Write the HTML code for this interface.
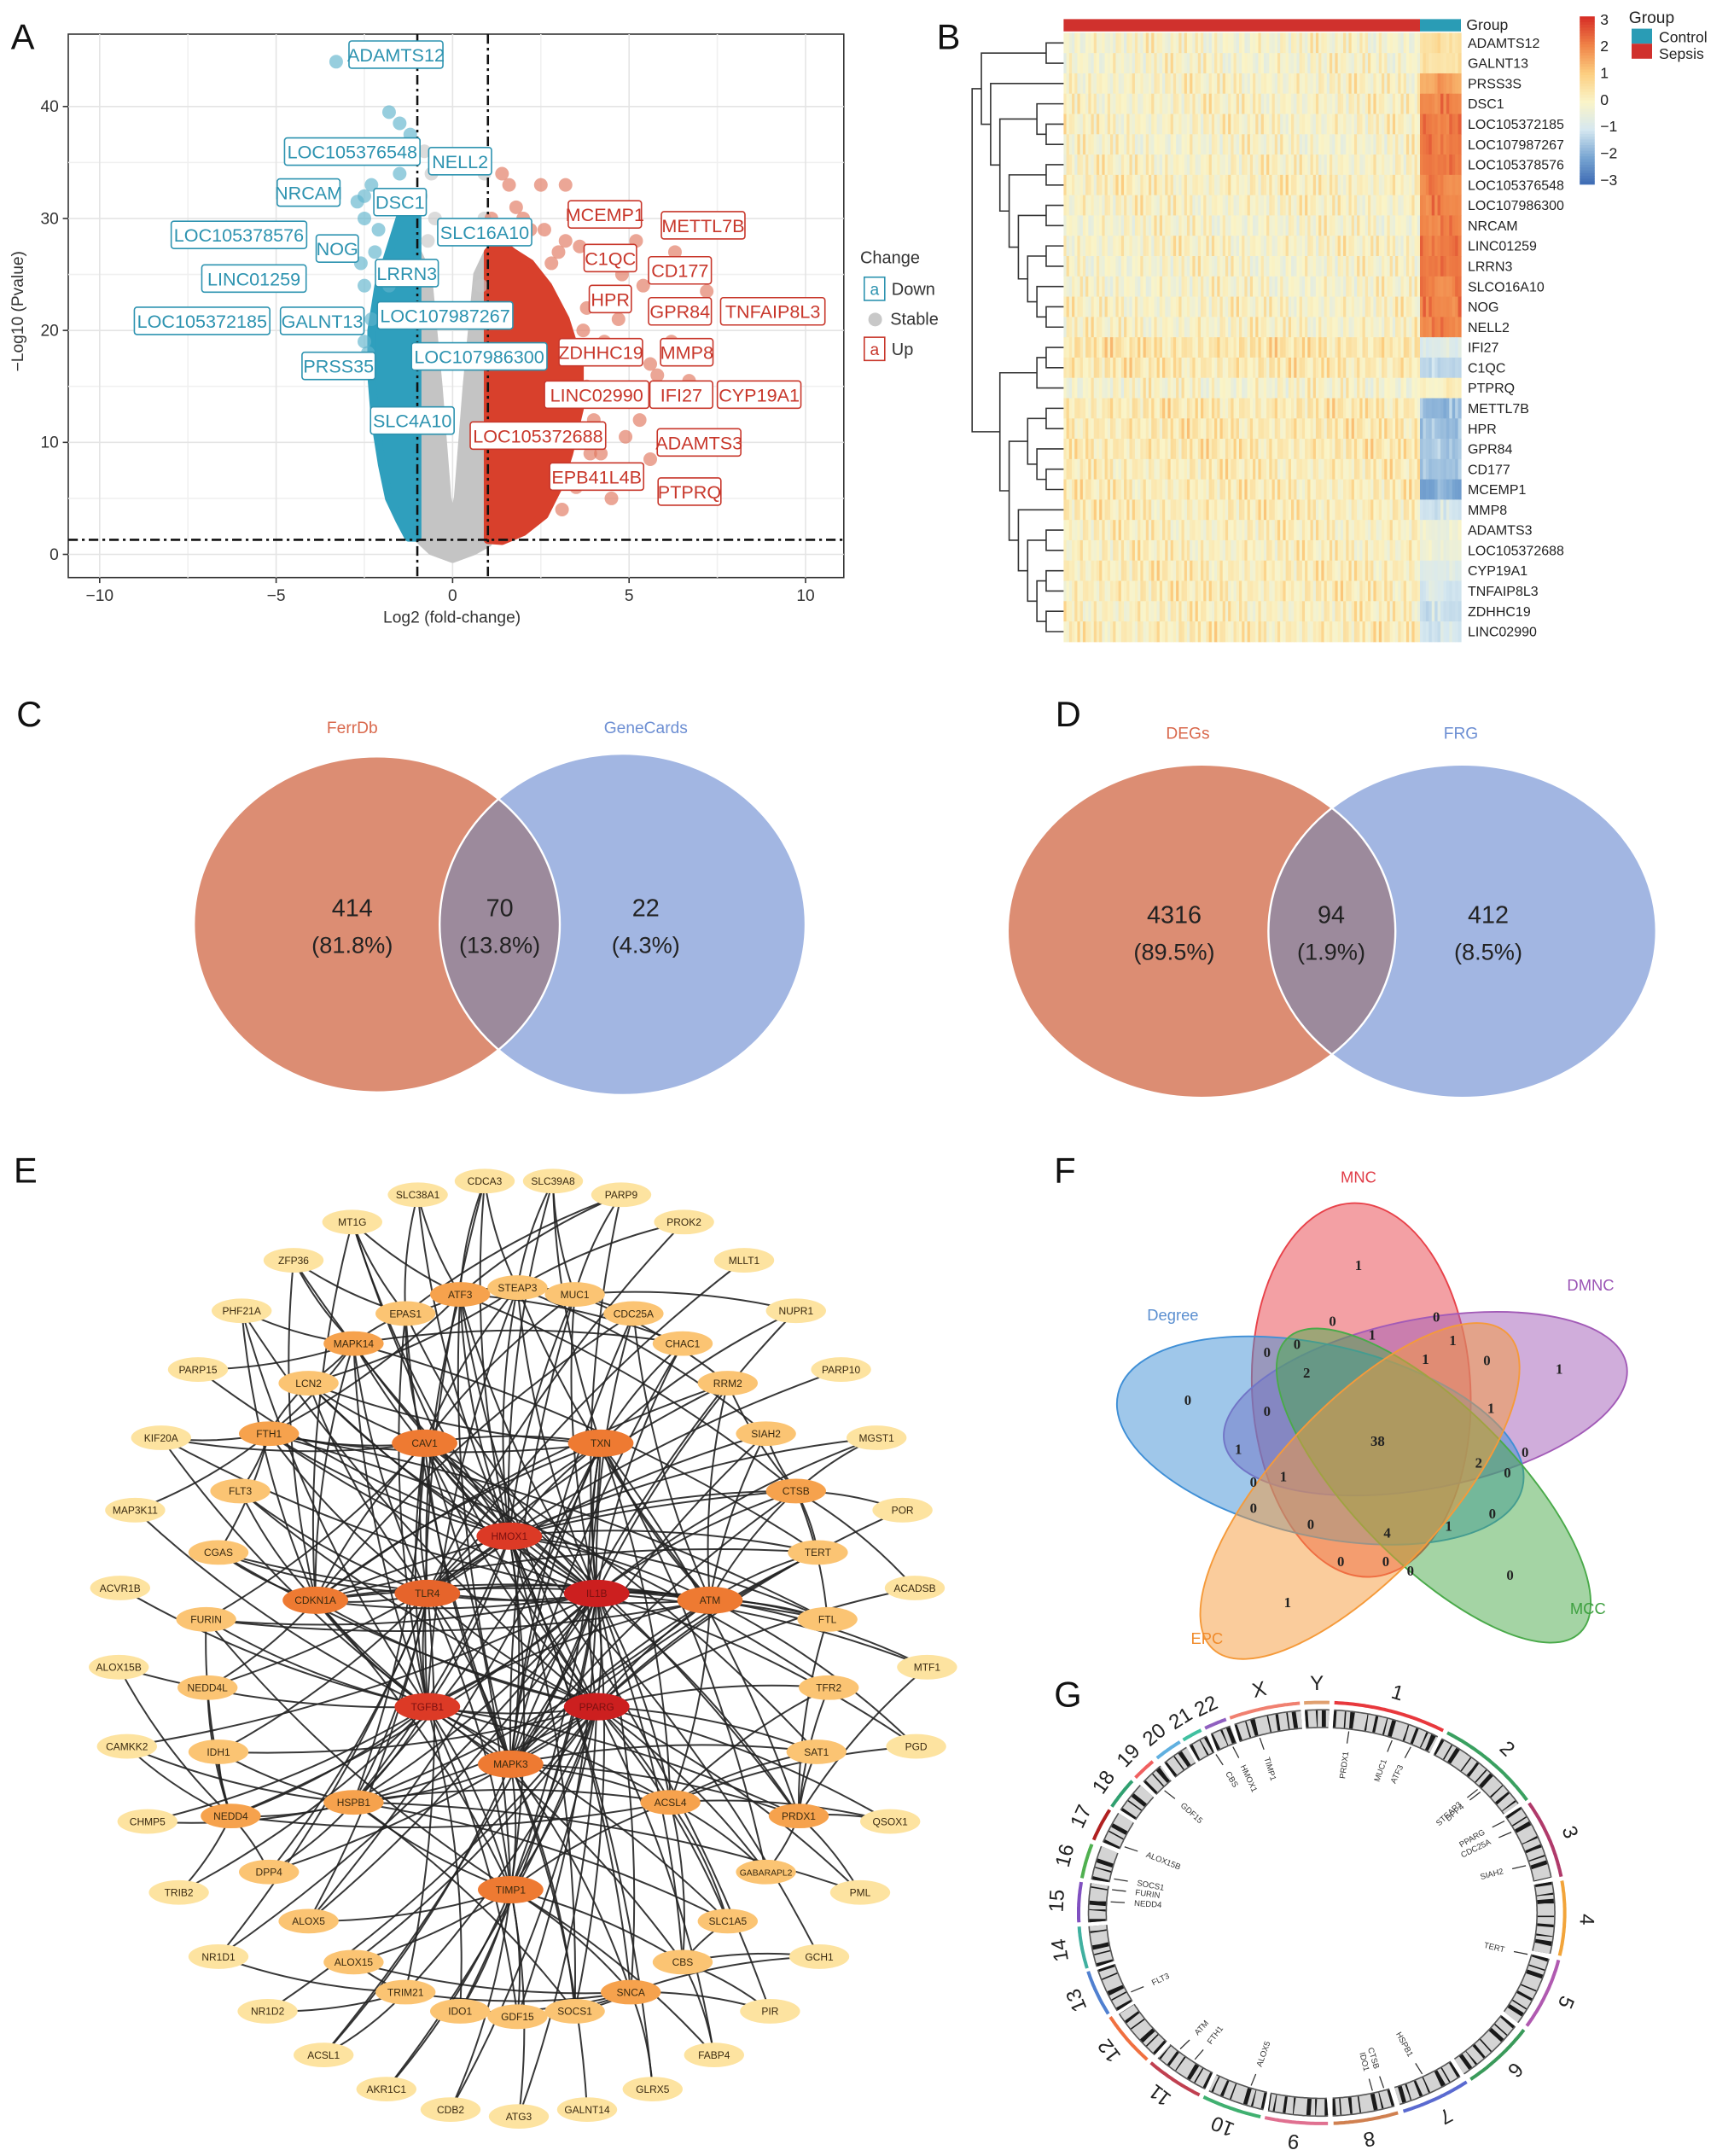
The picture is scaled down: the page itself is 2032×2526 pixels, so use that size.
<!DOCTYPE html>
<html><head><meta charset="utf-8">
<style>
html,body{margin:0;padding:0;background:#fff;}
svg{display:block;font-family:"Liberation Sans",sans-serif;}
</style></head>
<body>
<svg id="fig" width="2032" height="2526" viewBox="0 0 1270 1579" preserveAspectRatio="none" xmlns="http://www.w3.org/2000/svg">
<rect width="1270" height="1579" fill="#fff"/>
<g font-size="26" fill="#111">
<text x="8" y="36">A</text>
<text x="686" y="36">B</text>
<text x="12" y="532">C</text>
<text x="773" y="532">D</text>
<text x="10" y="866">E</text>
<text x="772" y="866">F</text>
<text x="772" y="1250">G</text>
</g>
</svg>
<script>
const NS="http://www.w3.org/2000/svg";
const svg=document.getElementById('fig');
function mk(tag,a,p){const e=document.createElementNS(NS,tag);for(const k in a)e.setAttribute(k,a[k]);(p||svg).appendChild(e);return e;}
function tx(s,x,y,a,p){const e=mk('text',Object.assign({x:x,y:y},a||{}),p);e.textContent=s;return e;}

/* ================= A: volcano ================= */
const xTicks=[-10,-5,0,5,10];
const yTicks=[0,10,20,30,40];
const bluePoly=[[-1,1.5],[-1,31],[-1.3,31],[-1.5,30],[-1.8,27],[-2.1,24],[-2.3,20],[-2.3,16],[-2.2,12],[-2.0,8],[-1.8,5],[-1.5,3],[-1.25,1.5]];
const redPoly=[[1,1.3],[1,27],[1.3,28],[1.7,27],[2.2,26],[2.7,24],[3.2,21],[3.6,17],[3.6,13],[3.3,9],[3,6],[2.6,3.5],[2,2],[1.4,1.2]];
const greyPoly=[[-1,1.5],[-1,27],[-0.7,25],[-0.4,15],[-0.15,5],[0,3],[0.15,5],[0.4,15],[0.7,25],[1,27],[1,1],[0.6,0.3],[0,-0.4],[-0.6,0.3]];
const redPtsX=[1.4,1.6,2.5,3.2,1.8,1.1,2.2,3.2,3.6,5.2,6.3,2.8,3.9,4.8,5.4,3.8,4.7,6.0,7.2,6.2,5.6,5.8,6.7,5.3,5.3,4.9,5.6,4.2,4.6,4.5,2.0,2.6,3.0,3.8,4.0,3.9,3.5,3.1,4.3,3.7,4.1];
const redPtsY=[34,33,33,33,31,30,29,28,27.5,28,27,26,26,25,24,22,21,22,23.5,19,17,16,15.5,14,12,10.5,8.5,9,7,5,30,29,27,15,12,9,6,4,19,20,14];
const bluePtsX=[-3.3,-1.8,-1.5,-1.2,-1.5,-2.3,-2.5,-2.7,-2.5,-2.1,-2.2,-2.6,-1.8,-2.5,-2.3,-2.5,-2.4,-1.7];
const bluePtsY=[44,39.5,38.5,37.5,34,33,32,31.5,30,29,27,26,24,24,21,19,18,36];
const greyPtsX=[-0.8,-0.6,-0.9,0.9,-0.5,-0.7,0.9,-0.3,0.8];
const greyPtsY=[36,34,32,34,30,28,30,35,24];
const X=v=>331.5+25.85*v, Y=v=>406-8.2*v;
const gA=mk('g',{});


mk('rect',{x:50,y:25,width:568,height:398,fill:'#fff',stroke:'#333','stroke-width':1},gA);
[-7.5,-2.5,2.5,7.5].forEach(v=>mk('line',{x1:X(v),x2:X(v),y1:25,y2:423,stroke:'#f0f0f0'},gA));
[5,15,25,35].forEach(v=>mk('line',{x1:50,x2:618,y1:Y(v),y2:Y(v),stroke:'#f0f0f0'},gA));
xTicks.forEach(v=>{mk('line',{x1:X(v),x2:X(v),y1:25,y2:423,stroke:'#e4e4e4'},gA);mk('line',{x1:X(v),x2:X(v),y1:423,y2:427,stroke:'#333'},gA);
 const tt=tx(String(v).replace('-','\u2212'),X(v),440,{'font-size':12,'text-anchor':'middle',fill:'#333'},gA);
 
 });
yTicks.forEach(v=>{mk('line',{x1:50,x2:618,y1:Y(v),y2:Y(v),stroke:'#e4e4e4'},gA);mk('line',{x1:46,x2:50,y1:Y(v),y2:Y(v),stroke:'#333'},gA);
 const tt=tx(String(v),43,Y(v)+4,{'font-size':12,'text-anchor':'end',fill:'#333'},gA);
 
 });
function poly(pts,fill){return mk('polygon',{points:pts.map(p=>X(p[0])+','+Y(p[1])).join(' '),fill:fill,stroke:fill,'stroke-width':6,'stroke-linejoin':'round'},gA);}
const pg=poly(greyPoly,'#c4c4c4');


const pb=poly(bluePoly,'#2f9fbd');


const pr=poly(redPoly,'#d8402c');


function drawPts(xs,ys,col,nm){xs.forEach((x,i)=>{const c=mk('circle',{cx:X(x),cy:Y(ys[i]),r:5,fill:col,'fill-opacity':0.65},gA);
 
 });}
drawPts(greyPtsX,greyPtsY,'#c8c8c8','stable-point');
drawPts(bluePtsX,bluePtsY,'#5fb3cc','down-point');
drawPts(redPtsX,redPtsY,'#e0765e','up-point');
mk('line',{x1:X(-1),x2:X(-1),y1:25,y2:423,stroke:'#111','stroke-width':1.6,'stroke-dasharray':'7 3 2 3'},gA);
mk('line',{x1:X(1),x2:X(1),y1:25,y2:423,stroke:'#111','stroke-width':1.6,'stroke-dasharray':'7 3 2 3'},gA);
mk('line',{x1:50,x2:618,y1:Y(1.3),y2:Y(1.3),stroke:'#111','stroke-width':1.6,'stroke-dasharray':'7 3 2 3'},gA);
const blueLabels=[["ADAMTS12",290,40],["LOC105376548",258,111],["NELL2",337,118],["NRCAM",226,141],["DSC1",293,148],["LOC105378576",175,172],["NOG",247,182],["SLC16A10",355,170],["LINC01259",186,204],["LRRN3",298,200],["LOC105372185",148,235],["GALNT13",236,235],["LOC107987267",326,231],["PRSS35",248,268],["LOC107986300",351,261],["SLC4A10",302,308]];
const redLabels=[["MCEMP1",443,157],["METTL7B",515,165],["C1QC",447,189],["CD177",498,198],["HPR",447,219],["GPR84",498,228],["TNFAIP8L3",566,228],["ZDHHC19",440,258],["MMP8",503,258],["LINC02990",437,289],["IFI27",499,289],["CYP19A1",556,289],["LOC105372688",394,319],["ADAMTS3",512,324],["EPB41L4B",437,349],["PTPRQ",505,360]];
function labs(Ls,col){Ls.forEach(l=>{const w=l[0].length*7.6+8;const g=mk('g',{},gA);
 
 
 mk('rect',{x:l[1]-w/2,y:l[2]-10,width:w,height:20,fill:'#fff',stroke:col,'stroke-width':1,rx:2},g);
 tx(l[0],l[1],l[2]+5,{'font-size':13.5,'text-anchor':'middle',fill:col},g);});}
labs(blueLabels,'#2d93b0');labs(redLabels,'#c8372b');
const xTitle=tx('Log2 (fold-change)',331,456,{'font-size':12,'text-anchor':'middle',fill:'#333'});


const yTitle=tx('\u2212Log10 (Pvalue)',0,0,{'font-size':12,'text-anchor':'middle',fill:'#333',transform:'translate(17,228) rotate(-90)'});


const lg=mk('g',{});


tx('Change',630,193,{'font-size':12.5,fill:'#333'},lg);
mk('rect',{x:633,y:203,width:15,height:17,fill:'#fff',stroke:'#2d93b0'},lg);tx('a',640.5,216,{'font-size':12,'text-anchor':'middle',fill:'#2d93b0'},lg);tx('Down',653,216,{'font-size':12.5,fill:'#333'},lg);
mk('circle',{cx:641,cy:234,r:5,fill:'#c8c8c8'},lg);tx('Stable',652,238,{'font-size':12.5,fill:'#333'},lg);
mk('rect',{x:633,y:247,width:15,height:17,fill:'#fff',stroke:'#c8372b'},lg);tx('a',640.5,260,{'font-size':12,'text-anchor':'middle',fill:'#c8372b'},lg);tx('Up',653,260,{'font-size':12.5,fill:'#333'},lg);

/* ================= B: heatmap ================= */
const genes=["ADAMTS12","GALNT13","PRSS3S","DSC1","LOC105372185","LOC107987267","LOC105378576","LOC105376548","LOC107986300","NRCAM","LINC01259","LRRN3","SLCO16A10","NOG","NELL2","IFI27","C1QC","PTPRQ","METTL7B","HPR","GPR84","CD177","MCEMP1","MMP8","ADAMTS3","LOC105372688","CYP19A1","TNFAIP8L3","ZDHHC19","LINC02990"];
const sepsisBase=[0,0,0.1,0.1,0.1,0,0.1,0.2,0.1,0,0.1,0,0,0.1,0.1,0.5,0.4,0,0.4,0.4,0.4,0.3,0.3,0.3,0.2,0.2,0.3,0.3,0.2,0.3];
const controlBase=[0.4,0.3,1.6,2.0,2.1,2.0,2.0,2.0,2.0,2.0,2.0,2.0,2.0,2.0,2.0,-0.9,-1.4,0.1,-1.7,-1.6,-1.6,-1.7,-1.9,-1.0,-0.4,-0.5,-0.9,-0.9,-1.1,-1.0];
const colPattern=[0.2,-0.6,1.4,0.1,-0.3,0.8,-0.9,0.3,2.0,-0.2,0.5,-1.1,0.0,1.1,-0.5,0.4,-0.7,1.7,0.2,-0.4,0.9,-1.0,0.3,0.6,-0.2,1.3,-0.8,0.1,0.7,-0.5,2.2,0.0,-0.3,0.9,-1.2,0.4,1.5,-0.1,0.6,-0.6,0.2,1.0,-0.9,0.3,2.4,-0.4,0.5,-0.2,0.8,-0.7,1.2,0.0,-0.5,0.6,1.8,-0.3,0.4,-1.0,0.9,0.1];
const colorStops=[[-3,[59,104,178]],[-2,[120,165,210]],[-1,[214,232,240]],[0,[250,244,200]],[1,[252,206,128]],[2,[240,132,72]],[3,[215,48,39]]];
function hc(v){v=Math.max(-3,Math.min(3,v));for(let i=0;i<colorStops.length-1;i++){const a=colorStops[i],b=colorStops[i+1];if(v<=b[0]){const f=(v-a[0])/(b[0]-a[0]);return 'rgb('+a[1].map((c,j)=>Math.round(c+(b[1][j]-c)*f)).join(',')+')';}}return 'rgb(215,48,39)';}
const hmL=779,hmR=1070,hmSplit=1040,rowTop=24,rowH=(470-24)/30;
const gB=mk('g',{});


const nS=130,nC=14;
genes.forEach((gn,r)=>{
 const y=rowTop+r*rowH;
 for(let c=0;c<nS;c++){const p=colPattern[(c*7+r*11)%colPattern.length];const v=sepsisBase[r]+p*0.42-0.2;
  const cell=mk('rect',{x:hmL+c*(hmSplit-hmL)/nS,y:y,width:(hmSplit-hmL)/nS+0.4,height:rowH+0.3,fill:hc(v)},gB);
  
  }
 for(let c=0;c<nC;c++){const p=colPattern[(c*5+r*3)%colPattern.length];const v=controlBase[r]+p*0.2;
  const cell=mk('rect',{x:hmSplit+c*(hmR-hmSplit)/nC,y:y,width:(hmR-hmSplit)/nC+0.4,height:rowH+0.3,fill:hc(v)},gB);
  
  }
 const lt=tx(gn,1075,y+rowH/2+3.5,{'font-size':10,fill:'#222'},gB);
 
 
});
mk('rect',{x:hmL,y:14,width:hmSplit-hmL,height:9,fill:'#d0312d'},gB);
mk('rect',{x:hmSplit,y:14,width:hmR-hmSplit,height:9,fill:'#2a9cb5'},gB);
tx('Group',1074,22,{'font-size':11,fill:'#222'},gB);
const subtreeX1=[[3,[4,5]],[[6,7],[[8,9],[[10,11],[12,[13,14]]]]]];
const dendroLeft=[[0,1],[2,subtreeX1]];
const dendroRight=[[[15,16],17],[[[18,19],[20,[21,22]]],[23,[[24,25],[[26,27],[28,29]]]]]];
const tree=[dendroLeft,dendroRight];
const dg=mk('g',{stroke:'#333','stroke-width':1,fill:'none'},gB);


function depth(n){return typeof n==='number'?0:1+Math.max(depth(n[0]),depth(n[1]));}
const maxD=depth(tree);
function drawTree(n){if(typeof n==='number')return {x:hmL,y:rowTop+(n+0.5)*rowH};
 const a=drawTree(n[0]),b=drawTree(n[1]);const d=depth(n);const x=hmL-6-(d/maxD)*61;
 mk('path',{d:'M'+a.x+','+a.y+'H'+x+'V'+b.y+'H'+b.x},dg);return {x:x,y:(a.y+b.y)/2};}
drawTree(tree);
const cb=mk('g',{});


for(let i=0;i<60;i++){mk('rect',{x:1157,y:12+i*2.05,width:11,height:2.3,fill:hc(3-i*0.1)},cb);}
[3,2,1,0,-1,-2,-3].forEach((v,i)=>tx(String(v).replace('-','\u2212'),1172,18+i*19.6,{'font-size':11,fill:'#222'},cb));
const gl=mk('g',{});


tx('Group',1193,17,{'font-size':12,fill:'#222'},gl);
mk('rect',{x:1195,y:21,width:15,height:11,fill:'#2a9cb5'},gl);tx('Control',1215,31,{'font-size':11,fill:'#222'},gl);
mk('rect',{x:1195,y:32,width:15,height:11,fill:'#d0312d'},gl);tx('Sepsis',1215,43,{'font-size':11,fill:'#222'},gl);

/* ================= C & D: two-set Venns ================= */
function lensPath(Lc,Rc){
 const hL=x=>Lc[3]*Math.sqrt(Math.max(0,1-Math.pow((x-Lc[0])/Lc[2],2)));
 const hR=x=>Rc[3]*Math.sqrt(Math.max(0,1-Math.pow((x-Rc[0])/Rc[2],2)));
 let lo=Math.max(Lc[0],Rc[0]-Rc[2]),hi=Math.min(Rc[0],Lc[0]+Lc[2]);
 for(let i=0;i<60;i++){const m=(lo+hi)/2;if(hL(m)-hR(m)>0)lo=m;else hi=m;}
 const xi=(lo+hi)/2,h=hL(xi),cy=Lc[1];
 return 'M'+xi+','+(cy-h)+' A'+Lc[2]+','+Lc[3]+' 0 0 1 '+xi+','+(cy+h)+' A'+Rc[2]+','+Rc[3]+' 0 0 1 '+xi+','+(cy-h)+'Z';
}
function venn2(nm,Lc,Rc,labels,labelX,labelY,vals,pcts,numX){
 const g=mk('g',{});
 
 
 const e1=mk('ellipse',{cx:Lc[0],cy:Lc[1],rx:Lc[2],ry:Lc[3],fill:'#dc8d73'},g);
 
 
 const e2=mk('ellipse',{cx:Rc[0],cy:Rc[1],rx:Rc[2],ry:Rc[3],fill:'#a2b6e2'},g);
 
 
 const e3=mk('path',{d:lensPath(Lc,Rc),fill:'#9c8a9c'},g);
 
 
 mk('ellipse',{cx:Lc[0],cy:Lc[1],rx:Lc[2],ry:Lc[3],fill:'none',stroke:'#fff','stroke-width':1.5},g);
 mk('ellipse',{cx:Rc[0],cy:Rc[1],rx:Rc[2],ry:Rc[3],fill:'none',stroke:'#fff','stroke-width':1.5},g);
 tx(labels[0],labelX[0],labelY,{'font-size':12,'text-anchor':'middle',fill:'#d9694d'},g);
 tx(labels[1],labelX[1],labelY,{'font-size':12,'text-anchor':'middle',fill:'#6d8fd3'},g);
 numX.forEach((x,i)=>{tx(String(vals[i]),x,Lc[1]-6,{'font-size':18,'text-anchor':'middle',fill:'#222'},g);tx(pcts[i],x,Lc[1]+21,{'font-size':17,'text-anchor':'middle',fill:'#222'},g);});
}
const vennCvals=[414,70,22], vennCpct=["(81.8%)","(13.8%)","(4.3%)"];
const vennDvals=[4316,94,412], vennDpct=["(89.5%)","(1.9%)","(8.5%)"];
venn2('venn-c',[276,677,134,123],[456,677,134,125],['FerrDb','GeneCards'],[258,473],537,vennCvals,vennCpct,[258,366,473]);
venn2('venn-d',[880,682,142,122],[1071,682,142,122],['DEGs','FRG'],[870,1070],541,vennDvals,vennDpct,[860,975,1090]);

/* ================= E: network ================= */
const nodes=[
["SLC38A1",306,875,0],["CDCA3",355,865,0],["SLC39A8",405,865,0],["PARP9",455,875,0],["PROK2",501,895,0],["MLLT1",545,923,0],["NUPR1",583,960,0],["PARP10",616,1003,0],["MGST1",642,1053,0],["POR",661,1106,0],["ACADSB",670,1163,0],["MTF1",679,1221,0],["PGD",671,1279,0],["QSOX1",652,1334,0],["PML",630,1386,0],["GCH1",600,1433,0],["PIR",564,1473,0],["FABP4",523,1505,0],["GLRX5",478,1530,0],["GALNT14",430,1545,0],["ATG3",380,1550,0],["CDB2",330,1545,0],["AKR1C1",283,1530,0],["ACSL1",237,1505,0],["NR1D2",196,1473,0],["NR1D1",160,1433,0],["TRIB2",131,1386,0],["CHMP5",108,1334,0],["CAMKK2",93,1279,0],["ALOX15B",87,1221,0],["ACVR1B",88,1163,0],["MAP3K11",99,1106,0],["KIF20A",118,1053,0],["PARP15",145,1003,0],["PHF21A",177,960,0],["ZFP36",215,923,0],["MT1G",258,895,0],
["ATF3",337,948,2],["STEAP3",379,943,1],["MUC1",421,948,1],["EPAS1",297,962,1],["CDC25A",464,962,1],["MAPK14",259,984,2],["CHAC1",500,984,1],["LCN2",226,1013,1],["RRM2",533,1013,1],["FTH1",197,1050,2],["SIAH2",561,1050,1],["FLT3",176,1092,1],["CTSB",583,1092,2],["CGAS",160,1137,1],["TERT",599,1137,1],["FURIN",151,1186,1],["FTL",606,1186,1],["NEDD4L",152,1236,1],["TFR2",607,1236,1],["IDH1",160,1283,1],["SAT1",598,1283,1],["NEDD4",169,1330,2],["PRDX1",585,1330,2],["DPP4",197,1371,1],["GABARAPL2",561,1371,1],["ALOX5",226,1407,1],["SLC1A5",533,1407,1],["ALOX15",259,1437,1],["CBS",500,1437,1],["TRIM21",297,1459,1],["SNCA",462,1459,2],["IDO1",337,1473,1],["GDF15",379,1477,1],["SOCS1",421,1473,1],
["CAV1",311,1057,3],["TXN",440,1057,3],["CDKN1A",231,1172,3],["HMOX1",373,1125,5],["TLR4",313,1167,4],["IL1B",437,1167,6],["ATM",520,1172,3],["TGFB1",313,1250,5],["PPARG",437,1250,6],["MAPK3",374,1292,3],["HSPB1",259,1320,2],["ACSL4",491,1320,2],["TIMP1",374,1384,3]];
const adjacency=[
"IL1B:HMOX1 TLR4 TGFB1 PPARG MAPK3 ATM CDKN1A CAV1 TXN TIMP1 HSPB1 ACSL4 ATF3 STEAP3 MUC1 EPAS1 CDC25A MAPK14 CHAC1 LCN2 FTH1 FTL CTSB FURIN NEDD4 PRDX1 SNCA SOCS1 GDF15 IDO1 ALOX5 CBS PGD MTF1 NR1D1 ACSL1 CAMKK2 ZFP36 NUPR1 PARP9 KIF20A MGST1",
"PPARG:HMOX1 TLR4 TGFB1 MAPK3 ATM CDKN1A CAV1 TXN TIMP1 HSPB1 ACSL4 ATF3 SAT1 TFR2 TERT CGAS FLT3 ALOX15 IDH1 DPP4 GABARAPL2 SLC1A5 TRIM21 NR1D2 FABP4 AKR1C1 CDB2 ATG3 POR ACADSB QSOX1 PML MT1G PHF21A",
"HMOX1:TLR4 TGFB1 MAPK3 ATM CAV1 TXN TIMP1 HSPB1 ATF3 STEAP3 MUC1 MAPK14 LCN2 FTH1 FTL NEDD4L SNCA SOCS1 MT1G SLC39A8 CDCA3 MGST1 SLC38A1 GCH1 GLRX5 PIR PARP15 CTSB TERT",
"TGFB1:TLR4 MAPK3 ATM CDKN1A CAV1 TIMP1 HSPB1 ACSL4 EPAS1 MAPK14 FURIN NEDD4 PRDX1 CBS GDF15 IDO1 ALOX15B ACVR1B MAP3K11 KIF20A PHF21A TRIB2 CHMP5 SLC1A5 CDCA3 STEAP3",
"TLR4:MAPK3 ATM CDKN1A CAV1 TXN TIMP1 HSPB1 ATF3 MAPK14 LCN2 FTH1 CGAS FLT3 IDH1 DPP4 ALOX5 TRIM21 PROK2 MLLT1 PARP10 NR1D1 RRM2 SIAH2",
"MAPK3:ATM CDKN1A CAV1 TXN TIMP1 HSPB1 ACSL4 EPAS1 CDC25A CHAC1 RRM2 SIAH2 CTSB TERT SAT1 PRDX1 SNCA SOCS1 GALNT14 ACSL1 MUC1 ATF3",
"CDKN1A:ATM CAV1 TXN TIMP1 MAPK14 CDC25A RRM2 TERT FLT3 CGAS ZFP36 MT1G PHF21A NEDD4L FTL CTSB",
"ATM:TXN HSPB1 ACSL4 RRM2 SIAH2 CTSB TERT FTL CDC25A STEAP3 MTF1 PGD FURIN CGAS",
"CAV1:TXN TIMP1 HSPB1 MUC1 STEAP3 EPAS1 FURIN FTH1 LCN2 KIF20A PRDX1 SAT1",
"TXN:TIMP1 HSPB1 ACSL4 PRDX1 SLC39A8 NUPR1 CHAC1 GABARAPL2 ALOX5 FTH1 LCN2",
"TIMP1:HSPB1 ACSL4 ALOX5 ALOX15 SNCA CBS GDF15 IDO1 ATG3 AKR1C1 CDB2 FABP4 FURIN",
"HSPB1:ACSL4 NEDD4 DPP4 IDH1 CAMKK2 CHMP5 SLC1A5 PML SOCS1",
"ACSL4:SAT1 TFR2 GABARAPL2 SLC1A5 QSOX1 PGD CBS NEDD4",
"ATF3:STEAP3 MUC1 EPAS1 CHAC1 SLC38A1 CDCA3 PARP9 MT1G FTH1 CTSB",
"STEAP3:MUC1 CDC25A CDCA3 SLC39A8 PROK2 LCN2 SIAH2",
"MAPK14:EPAS1 LCN2 FTH1 ZFP36 PHF21A PARP15 CHAC1 TERT",
"FTH1:FTL LCN2 FLT3 CGAS KIF20A MAP3K11 TFR2",
"NEDD4:NEDD4L IDH1 DPP4 ALOX15B CAMKK2 TRIB2 FURIN",
"SNCA:SOCS1 GDF15 IDO1 TRIM21 GLRX5 PIR GCH1 ALOX15",
"PRDX1:SAT1 TFR2 FTL QSOX1 PML MTF1 GABARAPL2",
"CTSB:TERT FTL SIAH2 RRM2 POR ACADSB MGST1",
"TRIM21:NR1D1 NR1D2 ACSL1 ALOX15",
"CBS:SLC1A5 GCH1 PIR FABP4",
"MUC1:PARP9 SLC39A8 NUPR1 RRM2",
"EPAS1:MT1G ZFP36 SLC38A1 PARP9"];
const tierFill=['#fde3a0','#fbc473','#f6a24d','#ee7a32','#e6642b','#dc3a26','#cc1f1f'];
const gE=mk('g',{});


const pos={};nodes.forEach(n=>{pos[n[0]]=n;});
const eg=mk('g',{stroke:'#222','stroke-width':1.25,fill:'none','stroke-opacity':0.9},gE);
adjacency.forEach(s=>{const parts=s.split(':');const h=parts[0];parts[1].split(' ').forEach(o=>{const a=pos[h],b=pos[o];if(!a||!b)return;
 const mx=(a[1]+b[1])/2+(b[2]-a[2])*0.08, my=(a[2]+b[2])/2-(b[1]-a[1])*0.08;
 const p=mk('path',{d:'M'+a[1]+','+a[2]+'Q'+mx+','+my+' '+b[1]+','+b[2]},eg);
 
 });});
nodes.forEach(n=>{const g=mk('g',{},gE);
 
 
 const big=n[3]>=3;
 mk('ellipse',{cx:n[1],cy:n[2],rx:big?24:22,ry:big?10:9,fill:tierFill[n[3]]},g);
 tx(n[0],n[1],n[2]+2.7,{'font-size':n[0].length>7?6.5:7.5,'text-anchor':'middle',fill:n[3]>=5?'#7a1010':'#3a2a10'},g);});

/* ================= F: five-set Venn ================= */
const sets=[["MNC",997,1018,80,137,-3,'#e8424a','#e03c47',995,866],["DMNC",1044,1028,150,62,-11,'#a25bb7','#9b54b5',1165,945],["Degree",967,1055,152,70,13,'#3f8fd6','#5b8fd0',859,967],["MCC",1050,1088,152,58,45,'#4aaa4a','#3ea040',1163,1182],["EPC",996,1092,62,158,43,'#f59a3a','#f08a2a',884,1204]];
const vennCounts=[["1",995,926],["0",976,967],["0",1052,964],["1",1005,977],["1",1064,981],["0",950,984],["0",928,990],["2",957,1005],["1",1044,995],["0",1089,996],["1",1142,1002],["0",870,1025],["0",928,1033],["1",1092,1031],["38",1009,1055],["1",907,1061],["2",1083,1071],["0",1117,1063],["0",1104,1078],["0",918,1085],["1",940,1081],["0",918,1104],["0",960,1116],["4",1016,1122],["1",1061,1117],["0",1093,1108],["0",982,1143],["0",1015,1143],["0",1033,1150],["0",1106,1153],["1",943,1173]];
const gF=mk('g',{});


sets.forEach(s=>{const e=mk('ellipse',{cx:s[1],cy:s[2],rx:s[3],ry:s[4],transform:'rotate('+s[5]+' '+s[1]+' '+s[2]+')',fill:s[6],'fill-opacity':0.5,stroke:s[6],'stroke-width':1.2},gF);
 
 
 const l=tx(s[0],s[8],s[9],{'font-size':11.5,'text-anchor':'middle',fill:s[7]},gF);
 
 });
vennCounts.forEach(c=>{const ct=tx(c[0],c[1],c[2]+4,{'font-size':10.5,'font-weight':'bold','text-anchor':'middle',fill:'#222','font-family':'Liberation Serif, serif'},gF);
 
 });

/* ================= G: circos ================= */
const chroms=["1","2","3","4","5","6","7","8","9","10","11","12","13","14","15","16","17","18","19","20","21","22","X","Y"];
const chromLen=[248,242,198,190,181,171,159,145,138,134,135,133,114,107,102,90,83,80,59,64,47,51,156,57];
const chromCol=['#e8383d','#3aa060','#b03a6a','#f2a43a','#b05ab0','#3a9a5a','#5a6ad0','#d08050','#e07090','#40b070','#c04050','#f07040','#5080d0','#40b0a0','#8050c0','#50b050','#b02020','#30a070','#f06060','#60b0e0','#40c0a0','#9060c0','#f08070','#e0a070'];
const genesG=[["PRDX1",0,40],["MUC1",0,150],["ATF3",0,200],["STEAP3",1,150],["DPP4",1,160],["PPARG",2,12],["CDC25A",2,48],["SIAH2",2,150],["TERT",4,1],["HSPB1",6,75],["CTSB",7,11],["IDO1",7,40],["ALOX5",9,45],["ATM",10,108],["FTH1",10,61],["FLT3",12,28],["NEDD4",14,55],["FURIN",14,90],["SOCS1",15,11],["ALOX15B",16,8],["GDF15",18,18],["CBS",20,43],["HMOX1",21,35],["TIMP1",22,47]];
const ccx=968,ccy=1401,crx=172,cry=149,gap=0.9;
const gG=mk('g',{});


const total=chromLen.reduce((a,b)=>a+b,0);
const degPer=(360-gap*24)/total;
function P(an,k){return [ccx+crx*k*Math.sin(an*Math.PI/180),ccy-cry*k*Math.cos(an*Math.PI/180)];}
function arc(a0,a1,k){let d='';for(let a=a0;a<=a1+0.001;a+=0.5){const p=P(Math.min(a,a1),k);d+=(d?'L':'M')+p[0].toFixed(1)+','+p[1].toFixed(1);}return d;}
let angCur=3;const starts=[];
chromLen.forEach((Lc,i)=>{const a1=angCur+Lc*degPer;starts.push(angCur);
 const g=mk('g',{},gG);
 
 
 mk('path',{d:arc(angCur,a1,0.955),fill:'none',stroke:'#555','stroke-width':14},g);
 mk('path',{d:arc(angCur,a1,0.955),fill:'none',stroke:'#d4d4d4','stroke-width':12},g);
 mk('path',{d:arc(angCur,a1,0.955),fill:'none',stroke:'#1a1a1a','stroke-width':12,'stroke-dasharray':'2 6 1 3 3 9 1 5'},g);
 mk('path',{d:arc(angCur,a1,1.035),fill:'none',stroke:chromCol[i],'stroke-width':2.5},g);
 const mid=(angCur+a1)/2;const m=P(mid,1.13);
 tx(chroms[i],m[0],m[1]+5,{'font-size':15,'text-anchor':'middle',fill:'#222',transform:'rotate('+mid+' '+m[0]+' '+m[1]+')'},g);
 angCur=a1+gap;});
genesG.forEach(gg=>{const a=starts[gg[1]]+gg[2]*degPer;const p1=P(a,0.9),p2=P(a,0.84),p3=P(a,0.8);
 mk('line',{x1:p1[0],y1:p1[1],x2:p2[0],y2:p2[1],stroke:'#333','stroke-width':0.8},gG);
 const rot=(a>180?a+90:a-90);
 const gt=tx(gg[0],p3[0],p3[1]+2,{'font-size':6,'text-anchor':a>180?'start':'end',fill:'#333',transform:'rotate('+rot+' '+p3[0]+' '+p3[1]+')'},gG);
 
 });
</script>
</body></html>
